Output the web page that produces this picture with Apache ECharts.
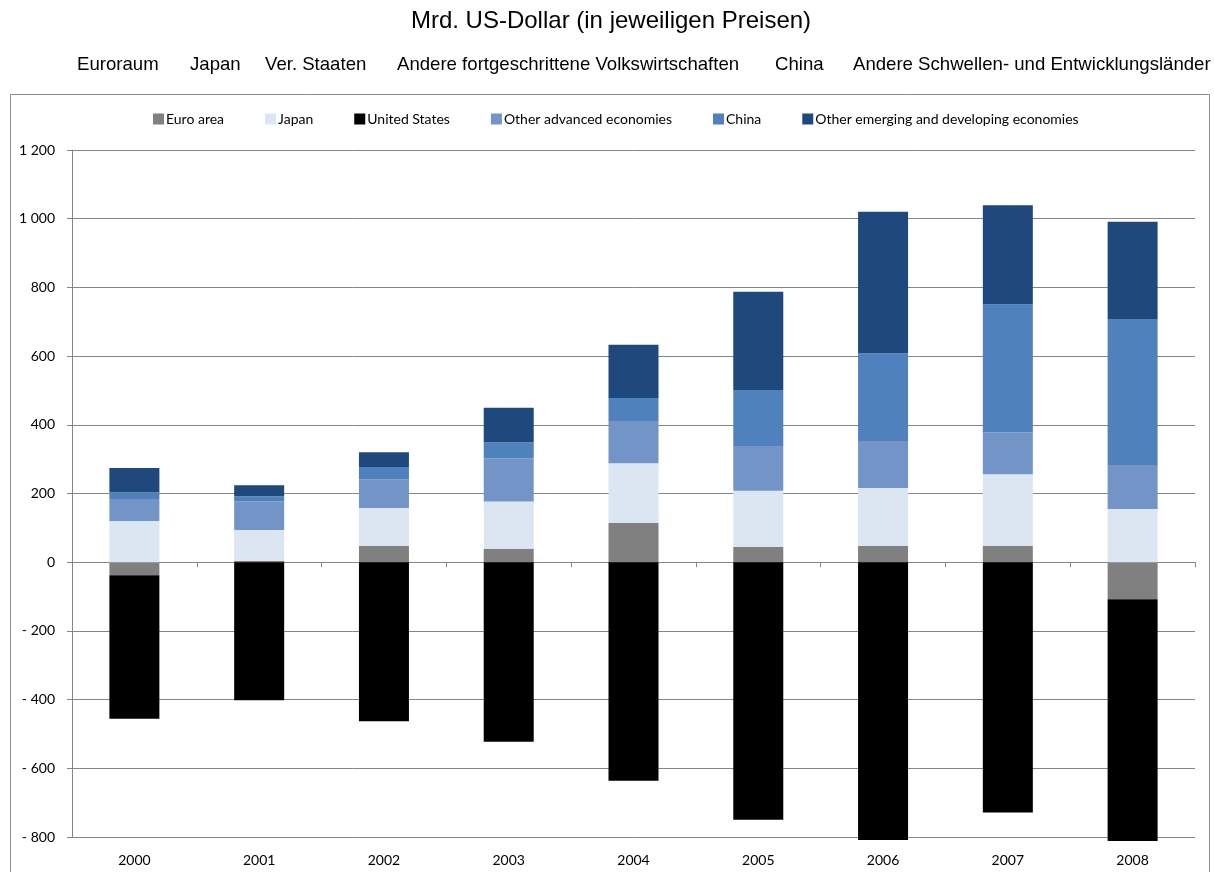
<!DOCTYPE html>
<html>
<head>
<meta charset="utf-8">
<script src="https://cdn.jsdelivr.net/npm/echarts@6/dist/echarts.min.js"></script>
<style>
html,body{margin:0;padding:0;background:#fff;}
#chart{width:1214px;height:872px;}
</style>
</head>
<body>
<div id="chart"></div>
<script>
const categories = ['2000','2001','2002','2003','2004','2005','2006','2007','2008'];
const seriesNames = ['Euro area','Japan','United States','Other advanced economies','China','Other emerging and developing economies'];
const germanLabels = ['Euroraum','Japan','Ver. Staaten','Andere fortgeschrittene Volkswirtschaften','China','Andere Schwellen- und Entwicklungsländer'];
const germanLabelX = [77,190,265,397,775,853];
const titleText = 'Mrd. US-Dollar (in jeweiligen Preisen)';

const euroArea = [-38, 4, 47, 39, 115, 44, 47, 47, -108];
const japan = [120, 90, 111, 138, 173, 164, 169, 209, 155];
const unitedStates = [-418, -402, -463, -523, -636, -750, -809, -729, -704];
const otherAdvanced = [64, 83, 83, 125, 123, 130, 137, 122, 128];
const china = [19, 15, 36, 47, 67, 163, 255, 373, 425];
const otherEmerging = [71, 32, 43, 101, 155, 286, 412, 288, 283];

const colors = ['#808080','#dce6f2','#000000','#7394c6','#4f81bd','#1f497d'];
const seriesData = [euroArea, japan, unitedStates, otherAdvanced, china, otherEmerging];

const FONT = 'Lato';
function fmt(v){
  const a = Math.abs(v);
  let s = String(a);
  if (a >= 1000) s = s.slice(0, -3) + ' ' + s.slice(-3);
  return v < 0 ? '- ' + s : s;
}

const chart = echarts.init(document.getElementById('chart'), null, {renderer:'canvas'});
const graphics = [
  {type:'rect', shape:{x:10.5,y:94.5,width:1199,height:800}, style:{fill:'none',stroke:'#8c8c8c',lineWidth:1}, silent:true, z:-10},
  {type:'text', x:611, y:9, style:{text:titleText, font:'24px "Liberation Sans", Arial', fill:'#000', textAlign:'center'}}
];
germanLabels.forEach((t,i)=>{
  graphics.push({type:'text', x:germanLabelX[i], y:55, style:{text:t, font:'18.6px "Liberation Sans", Arial', fill:'#000'}});
});

chart.setOption({
  animation:false,
  backgroundColor:'#fff',
  color:colors,
  graphic:graphics,
  legend:{
    data:seriesNames,
    left:148, top:107,
    icon:'rect', itemWidth:11, itemHeight:11, itemGap:41,
    textStyle:{fontFamily:FONT, fontSize:14, color:'#000', padding:[0,0,0,-3]}
  },
  grid:{left:72, right:19, top:150, bottom:35, containLabel:false},
  xAxis:[
    {type:'category', data:categories, position:'bottom',
     axisLine:{show:true, onZero:true, lineStyle:{color:'#868686', width:1}},
     axisTick:{show:true, alignWithLabel:false, length:5, lineStyle:{color:'#868686'}},
     axisLabel:{show:false}, splitLine:{show:false}},
    {type:'category', data:categories, position:'bottom', gridIndex:0,
     axisLine:{show:false, onZero:false}, axisTick:{show:false},
     axisLabel:{show:true, margin:16, fontFamily:FONT, fontSize:14, color:'#000'}}
  ],
  yAxis:{
    type:'value', min:-800, max:1200, interval:200,
    axisLine:{show:true, lineStyle:{color:'#868686'}},
    axisTick:{show:true, length:5, lineStyle:{color:'#868686'}},
    axisLabel:{formatter:fmt, margin:17, fontFamily:FONT, fontSize:14, color:'#000'},
    splitLine:{show:true, lineStyle:{color:'#868686', width:1}}
  },
  series: seriesNames.map((n,i)=>({
    name:n, type:'bar', stack:'total', data:seriesData[i],
    barWidth:50, xAxisIndex:0, clip:false,
    itemStyle:{color:colors[i]}
  }))
});
</script>
</body>
</html>
